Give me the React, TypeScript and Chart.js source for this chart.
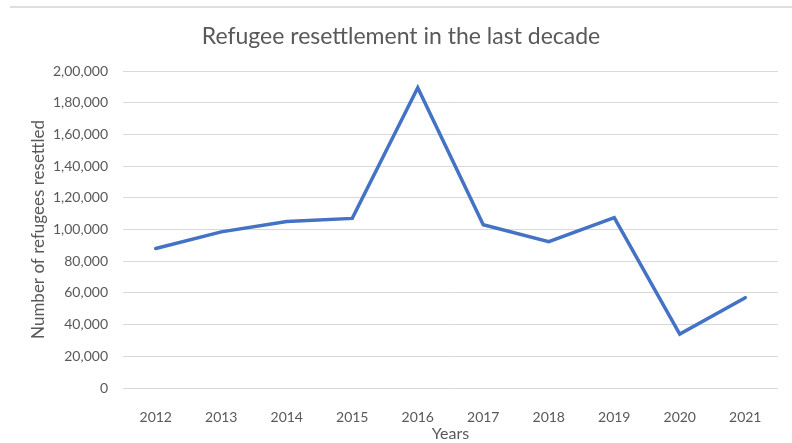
import React, { useEffect, useRef } from "react";
import { Chart, registerables } from "chart.js";

Chart.register(...registerables);

const years = ["2012", "2013", "2014", "2015", "2016", "2017", "2018", "2019", "2020", "2021"];
const refugeesResettled = [88000, 98500, 105000, 107000, 189500, 103000, 92300, 107500, 34000, 57000];

const chartTitle = "Refugee resettlement in the last decade";
const xAxisTitle = "Years";
const yAxisTitle = "Number of refugees resettled";

const yMin = 0;
const yMax = 200000;
const yStep = 20000;

const TEXT_COLOR = "#595959";
const GRID_COLOR = "#d9d9d9";
const LINE_COLOR = "#4472C4";
const FONT = "Lato";

// Indian digit grouping: 1,80,000
function formatIndian(n: number): string {
  const s = String(Math.round(n));
  if (s.length <= 3) return s;
  const last3 = s.slice(-3);
  let rest = s.slice(0, -3);
  const parts: string[] = [];
  while (rest.length > 2) {
    parts.unshift(rest.slice(-2));
    rest = rest.slice(0, -2);
  }
  if (rest.length) parts.unshift(rest);
  return parts.join(",") + "," + last3;
}

export default function App() {
  const canvasRef = useRef<HTMLCanvasElement | null>(null);

  useEffect(() => {
    const canvas = canvasRef.current;
    if (!canvas) return;
    const chart = new Chart(canvas, {
      type: "line",
      data: {
        labels: years,
        datasets: [
          {
            data: refugeesResettled,
            borderColor: LINE_COLOR,
            backgroundColor: LINE_COLOR,
            borderWidth: 3.5,
            pointRadius: 0,
            pointHoverRadius: 0,
            tension: 0,
            borderCapStyle: "round",
            borderJoinStyle: "miter",
            fill: false,
          },
        ],
      },
      options: {
        responsive: false,
        animation: false,
        layout: { padding: { left: 24, right: 14, top: 0, bottom: 0 } },
        plugins: {
          legend: { display: false },
          tooltip: { enabled: false },
          title: {
            display: true,
            text: chartTitle,
            color: TEXT_COLOR,
            font: { family: FONT, size: 23, weight: "normal", lineHeight: 1.2 },
            padding: { top: 23.2, bottom: 20.2 },
          },
        },
        scales: {
          x: {
            type: "category",
            offset: true,
            grid: { display: false },
            border: { display: false },
            ticks: {
              color: TEXT_COLOR,
              font: { family: FONT, size: 14 },
              padding: 13,
              maxRotation: 0,
            },
            title: {
              display: true,
              text: xAxisTitle,
              color: TEXT_COLOR,
              font: { family: FONT, size: 16 },
              padding: { top: 0, bottom: 0 },
            },
            afterFit: (scale: any) => {
              scale.height = 55;
            },
          },
          y: {
            min: yMin,
            max: yMax,
            grid: { color: GRID_COLOR, lineWidth: 1, drawTicks: false },
            border: { display: false },
            ticks: {
              stepSize: yStep,
              color: TEXT_COLOR,
              font: { family: FONT, size: 14 },
              padding: 15,
              callback: (v: any) => formatIndian(Number(v)),
            },
            title: {
              display: true,
              text: yAxisTitle,
              color: TEXT_COLOR,
              font: { family: FONT, size: 17 },
              padding: { top: 4, bottom: 0 },
            },
            afterFit: (scale: any) => {
              scale.width = 99;
            },
          },
        },
      },
    });
    return () => chart.destroy();
  }, []);

  return (
    <div style={{ position: "absolute", left: 0, top: 0, width: 792, height: 443, background: "#ffffff" }}>
      <div style={{ position: "absolute", left: 10, top: 6, width: 782, height: 2, background: "#dedede" }} />
      <canvas ref={canvasRef} width={792} height={443} style={{ display: "block" }} />
    </div>
  );
}
